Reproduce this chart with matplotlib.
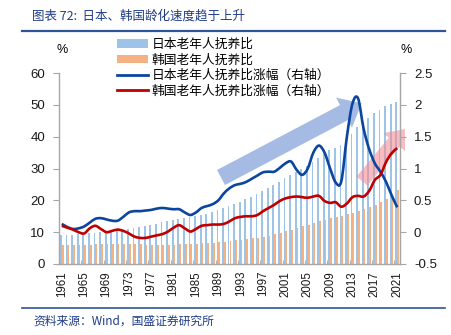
import numpy as np
import matplotlib
matplotlib.use("Agg")
import matplotlib.pyplot as plt
import matplotlib.transforms as mtransforms
from matplotlib.patches import Patch, FancyArrow, PathPatch
from matplotlib.path import Path
from matplotlib.lines import Line2D
from matplotlib.ticker import FuncFormatter

plt.rcParams["font.family"] = ["Liberation Sans", "Noto Sans CJK SC", "DejaVu Sans"]
CJK = ["Noto Sans CJK SC", "DejaVu Sans"]

# ── Data ──────────────────────────────────────────────────────────────────────
years = np.arange(1961, 2022)

# old-age dependency ratio, % (left axis)
japan_ratio = [
    9.0, 9.1, 9.2, 9.3, 9.4, 9.6, 9.8, 10.0, 10.2, 10.4,
    10.6, 10.8, 11.1, 11.4, 11.7, 12.0, 12.4, 12.7, 13.1, 13.5,
    13.8, 14.2, 14.5, 14.8, 15.1, 15.4, 15.8, 16.3, 17.0, 17.5,
    18.1, 18.8, 19.5, 20.3, 21.2, 22.0, 23.0, 23.9, 24.8, 25.8,
    26.9, 28.0, 29.0, 29.9, 30.9, 32.1, 33.4, 34.7, 35.7, 36.5,
    37.3, 38.8, 40.8, 42.9, 44.6, 46.0, 47.3, 48.5, 49.5, 50.2,
    50.8,
]
korea_ratio = [
    6.0, 6.0, 6.0, 6.0, 6.0, 6.1, 6.2, 6.2, 6.2, 6.3,
    6.3, 6.3, 6.3, 6.2, 6.2, 6.1, 6.0, 6.0, 6.0, 6.0,
    6.1, 6.2, 6.2, 6.3, 6.4, 6.5, 6.6, 6.7, 6.8, 7.0,
    7.2, 7.4, 7.6, 7.8, 8.1, 8.3, 8.6, 8.9, 9.3, 9.8,
    10.3, 10.8, 11.3, 11.8, 12.4, 12.9, 13.4, 13.9, 14.4, 14.8,
    15.2, 15.6, 16.1, 16.7, 17.2, 17.8, 18.6, 19.5, 20.5, 21.8,
    23.2,
]

# yearly increase of the ratio, pp (right axis)
japan_inc = [
    0.13, 0.08, 0.05, 0.06, 0.09, 0.15, 0.21, 0.22, 0.20, 0.18,
    0.18, 0.24, 0.31, 0.33, 0.33, 0.34, 0.35, 0.37, 0.38, 0.37,
    0.36, 0.36, 0.31, 0.27, 0.31, 0.38, 0.41, 0.44, 0.50, 0.61,
    0.69, 0.74, 0.76, 0.79, 0.84, 0.89, 0.94, 0.95, 0.95, 1.01,
    1.08, 1.11, 0.98, 0.90, 1.00, 1.25, 1.36, 1.25, 1.00, 0.78,
    0.80, 1.50, 2.02, 2.10, 1.62, 1.30, 1.08, 0.95, 0.79, 0.58,
    0.39,
]
korea_inc = [
    0.10, 0.07, 0.04, 0.00, -0.02, 0.06, 0.10, 0.05, 0.00, 0.02,
    0.04, 0.02, -0.02, -0.07, -0.09, -0.09, -0.07, -0.05, -0.03, 0.01,
    0.07, 0.11, 0.06, 0.01, 0.05, 0.10, 0.11, 0.12, 0.12, 0.13,
    0.17, 0.22, 0.24, 0.25, 0.25, 0.27, 0.33, 0.38, 0.43, 0.49,
    0.53, 0.55, 0.56, 0.55, 0.54, 0.56, 0.57, 0.49, 0.46, 0.47,
    0.40, 0.45, 0.55, 0.57, 0.56, 0.65, 0.82, 0.90, 1.10, 1.24,
    1.32,
]

labels = ["日本老年人抚养比", "韩国老年人抚养比",
          "日本老年人抚养比涨幅（右轴）", "韩国老年人抚养比涨幅（右轴）"]

# ── Colours ───────────────────────────────────────────────────────────────────
C_JP_BAR = "#9DC3E6"
C_KR_BAR = "#F4B183"
C_JP_LINE = "#0B45A0"
C_KR_LINE = "#C00000"
C_AXIS = "#A6A6A6"
C_TITLE = "#1F3C88"


def smooth_path(x, y):
    """Excel-style smoothed line: cubic Bezier through every point."""
    x = np.asarray(x, float)
    y = np.asarray(y, float)
    verts = [(x[0], y[0])]
    codes = [Path.MOVETO]
    n = len(x)
    for i in range(n - 1):
        x0, y0 = (x[i - 1], y[i - 1]) if i > 0 else (x[i], y[i])
        x3, y3 = (x[i + 2], y[i + 2]) if i + 2 < n else (x[i + 1], y[i + 1])
        c1 = (x[i] + (x[i + 1] - x0) / 6, y[i] + (y[i + 1] - y0) / 6)
        c2 = (x[i + 1] - (x3 - x[i]) / 6, y[i + 1] - (y3 - y[i]) / 6)
        verts += [c1, c2, (x[i + 1], y[i + 1])]
        codes += [Path.CURVE4] * 3
    return Path(verts, codes)


# ── Figure ────────────────────────────────────────────────────────────────────
fig = plt.figure(figsize=(4.52, 3.35), dpi=100)
ax = fig.add_axes([59 / 452, 71 / 335, 341 / 452, 191 / 335])
ax2 = ax.twinx()

ax.bar(years - 0.16, japan_ratio, width=0.32, color=C_JP_BAR, zorder=2)
ax.bar(years + 0.16, korea_ratio, width=0.32, color=C_KR_BAR, zorder=2)

for vals, col in ((japan_inc, C_JP_LINE), (korea_inc, C_KR_LINE)):
    ax2.add_patch(PathPatch(smooth_path(years, vals), facecolor="none",
                            edgecolor=col, lw=1.9, joinstyle="round",
                            capstyle="butt"))

ax.set_xlim(1960.6, 2021.5)
ax.set_ylim(0, 60)
ax2.set_ylim(-0.5, 2.5)
ax.set_yticks(range(0, 61, 10))
ax2.set_yticks(np.arange(-0.5, 2.51, 0.5))
ax2.yaxis.set_major_formatter(FuncFormatter(lambda v, p: f"{v:g}"))

ax.set_xticks(range(1961, 2022, 4))
ax.set_xticklabels([str(y) for y in range(1961, 2022, 4)], rotation=90)
ax.set_xticks(np.arange(1960.5, 2022, 4), minor=True)

ax.tick_params(axis="x", which="major", length=0, pad=5, labelsize=8.3,
               labelcolor="#1A1A1A")
ax.tick_params(axis="x", which="minor", direction="in", length=3,
               color=C_AXIS)
ax.tick_params(axis="y", length=4, color=C_AXIS, pad=6, labelsize=9.5,
               labelcolor="#1A1A1A")
ax2.tick_params(axis="y", length=4, color=C_AXIS, pad=6, labelsize=9.5,
                labelcolor="#1A1A1A")

for a in (ax, ax2):
    for side, sp in a.spines.items():
        sp.set_color(C_AXIS)
        sp.set_linewidth(1.0)
    a.spines["top"].set_visible(False)
ax.spines["right"].set_visible(False)
ax2.spines["left"].set_visible(False)
ax2.spines["bottom"].set_visible(False)

# ── Trend arrows (pixel coords, y down) ───────────────────────────────────────
pix = mtransforms.Affine2D().scale(1 / 100, -1 / 100).translate(0, 3.35) \
    + fig.dpi_scale_trans
blue_arrow = FancyArrow(221, 177.5, 140.7, -74.2, width=17, head_width=34,
                        head_length=20, length_includes_head=True,
                        transform=pix, color="#8FAADC", alpha=0.8, lw=0,
                        zorder=5, clip_on=False)
pink_arrow = FancyArrow(362, 181, 43, -52, width=14, head_width=28,
                        head_length=17, length_includes_head=True,
                        transform=pix, color="#F28E96", alpha=0.6, lw=0,
                        zorder=5, clip_on=False)
ax.add_patch(blue_arrow)
ax.add_patch(pink_arrow)

# ── Unit labels ───────────────────────────────────────────────────────────────
fig.text(62 / 452, 1 - 50 / 335, "%", fontsize=9, ha="center", va="center")
fig.text(406 / 452, 1 - 50 / 335, "%", fontsize=9, ha="center", va="center")

# ── Legend ────────────────────────────────────────────────────────────────────
handles = [
    Patch(facecolor=C_JP_BAR, edgecolor="none"),
    Patch(facecolor=C_KR_BAR, edgecolor="none"),
    Line2D([0], [0], color=C_JP_LINE, lw=2),
    Line2D([0], [0], color=C_KR_LINE, lw=2),
]
fig.legend(handles, labels, loc="upper left",
           bbox_to_anchor=(117 / 452, 1 - 38 / 335), frameon=False,
           prop={"family": CJK, "size": 9.2}, handlelength=2.4,
           handleheight=0.6, handletextpad=0.3, labelspacing=0.2,
           borderpad=0, borderaxespad=0)

# ── Title and source ──────────────────────────────────────────────────────────
fig.text(32 / 452, 1 - 16 / 335, "图表 72:  日本、韩国龄化速度趋于上升",
         family=CJK, fontsize=9, color=C_TITLE, va="center")
fig.add_artist(Line2D([22 / 452, 445 / 452], [1 - 31 / 335, 1 - 31 / 335],
                      color="#2E5597", lw=1.6))
fig.add_artist(Line2D([22 / 452, 445 / 452], [1 - 308 / 335, 1 - 308 / 335],
                      color="#2E5597", lw=1.2))
fig.text(33 / 452, 1 - 321 / 335, "资料来源：Wind，国盛证券研究所",
         family=CJK, fontsize=8.5, color=C_TITLE, va="center")

fig.savefig("out.png", dpi=100)
